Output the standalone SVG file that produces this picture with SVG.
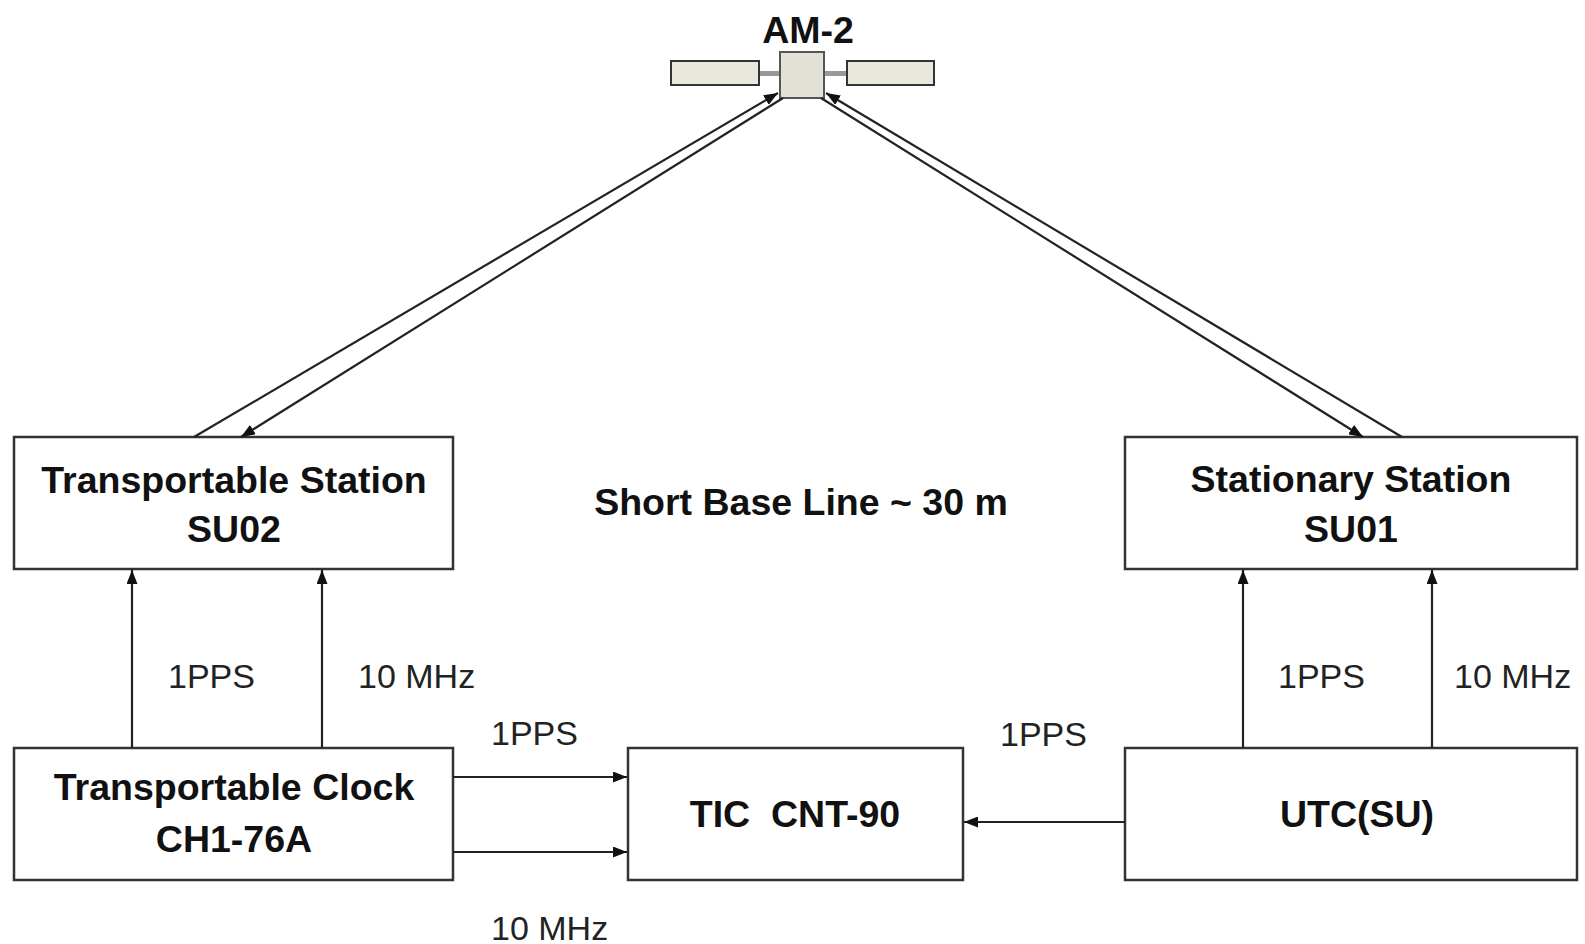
<svg xmlns="http://www.w3.org/2000/svg" width="1585" height="944" viewBox="0 0 1585 944">
<style>
.box{fill:#fff;stroke:#333;stroke-width:2.5}
.nt{font-family:"Liberation Sans",Arial,sans-serif;font-weight:bold;font-size:37.5px;fill:#111;text-anchor:middle}
.lb{font-family:"Liberation Sans",Arial,sans-serif;font-size:34px;fill:#222}
.ln{stroke:#222;stroke-width:2.2;fill:none}
.pan{fill:#e9e8dc;stroke:#333;stroke-width:2}
</style>
<defs>
<marker id="ah" viewBox="0 0 14 11" refX="14" refY="5.5" markerWidth="14" markerHeight="11" markerUnits="userSpaceOnUse" orient="auto">
<path d="M0,0 L14,5.5 L0,11 Z" fill="#111"/>
</marker>
</defs>
<rect width="1585" height="944" fill="#fff"/>
<g id="satellite">
<rect x="757" y="71" width="25" height="5" fill="#999"/>
<rect x="822" y="71" width="27" height="5" fill="#999"/>
<rect class="pan" x="671" y="61" width="88" height="24"/>
<rect class="pan" x="847" y="61" width="87" height="24"/>
<rect x="780" y="52" width="44" height="46" fill="#e3e1d6" stroke="#555" stroke-width="2"/>
<text class="nt" x="808" y="43" font-size="39">AM-2</text>
</g>
<g id="transportable-station">
<rect class="box" x="14" y="437" width="439" height="132"/>
<text class="nt" x="234" y="493">Transportable Station</text>
<text class="nt" x="234" y="542">SU02</text>
</g>
<g id="stationary-station">
<rect class="box" x="1125" y="437" width="452" height="132"/>
<text class="nt" x="1351" y="492">Stationary Station</text>
<text class="nt" x="1351" y="542">SU01</text>
</g>
<g id="transportable-clock">
<rect class="box" x="14" y="748" width="439" height="132"/>
<text class="nt" x="234" y="800">Transportable Clock</text>
<text class="nt" x="234" y="852">CH1-76A</text>
</g>
<g id="tic">
<rect class="box" x="628" y="748" width="335" height="132"/>
<text class="nt" x="795" y="827" xml:space="preserve">TIC  CNT-90</text>
</g>
<g id="utc">
<rect class="box" x="1125" y="748" width="452" height="132"/>
<text class="nt" x="1357" y="827">UTC(SU)</text>
</g>
<g id="baseline-label">
<text class="nt" x="801" y="515" font-size="38">Short Base Line ~ 30 m</text>
</g>
<g id="connectors">
<line class="ln" x1="194" y1="437" x2="778" y2="93" marker-end="url(#ah)"/>
<line class="ln" x1="783" y1="98" x2="241" y2="437" marker-end="url(#ah)"/>
<line class="ln" x1="1402" y1="437" x2="826" y2="93" marker-end="url(#ah)"/>
<line class="ln" x1="821" y1="98" x2="1363" y2="437" marker-end="url(#ah)"/>
<line class="ln" x1="132" y1="748" x2="132" y2="570" marker-end="url(#ah)"/>
<line class="ln" x1="322" y1="748" x2="322" y2="570" marker-end="url(#ah)"/>
<line class="ln" x1="1243" y1="748" x2="1243" y2="570" marker-end="url(#ah)"/>
<line class="ln" x1="1432" y1="748" x2="1432" y2="570" marker-end="url(#ah)"/>
<line class="ln" x1="453" y1="777" x2="627" y2="777" marker-end="url(#ah)"/>
<line class="ln" x1="453" y1="852" x2="627" y2="852" marker-end="url(#ah)"/>
<line class="ln" x1="1125" y1="822" x2="964" y2="822" marker-end="url(#ah)"/>
<text class="lb" x="168" y="688">1PPS</text>
<text class="lb" x="358" y="688">10 MHz</text>
<text class="lb" x="1278" y="688">1PPS</text>
<text class="lb" x="1454" y="688">10 MHz</text>
<text class="lb" x="491" y="745">1PPS</text>
<text class="lb" x="491" y="940">10 MHz</text>
<text class="lb" x="1000" y="746">1PPS</text>
</g>
</svg>
